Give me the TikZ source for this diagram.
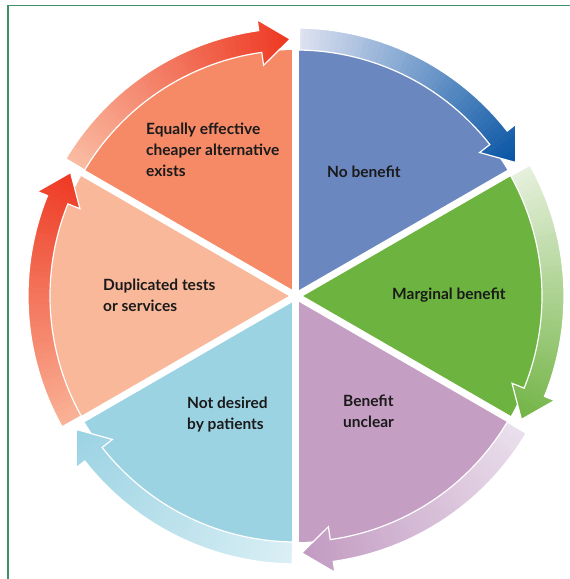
\documentclass[tikz,border=0pt]{standalone}
\usepackage{fontspec}
\setmainfont{Lato}

% sector fills
\definecolor{secblue}{HTML}{6B87BF}
\definecolor{secgreen}{HTML}{6CB33F}
\definecolor{secpurple}{HTML}{C59EC3}
\definecolor{seccyan}{HTML}{9CD3E3}
\definecolor{secpeach}{HTML}{F9B89A}
\definecolor{secsalmon}{HTML}{F68A66}
% arrow gradients (tail -> head)
\definecolor{bluetail}{HTML}{DDE2F1}
\definecolor{bluehead}{HTML}{0A56A5}
\definecolor{greentail}{HTML}{E6F0DC}
\definecolor{greenhead}{HTML}{74B548}
\definecolor{purpletail}{HTML}{EADFEC}
\definecolor{purplehead}{HTML}{C39BC2}
\definecolor{cyantail}{HTML}{DAEFF5}
\definecolor{cyanhead}{HTML}{9CD3E3}
\definecolor{peachtail}{HTML}{F9B296}
\definecolor{redhead}{HTML}{EE3A24}
\definecolor{salmontail}{HTML}{F9BCA2}
\definecolor{ink}{HTML}{1A1A1A}
\definecolor{framegreen}{HTML}{3F8F68}

% one wedge of the wheel, from angle #1 clockwise to #2
\newcommand\wheelwedge[3]{%
  \fill[#3] (0,0) -- (#1:246) arc[start angle=#1, end angle=#2, radius=246] -- cycle;}

% outline of the curved arrow along the rim of the wedge starting at angle #1
\newcommand\rimpath{(\ta:268) arc[start angle=\ta, end angle=\wa, radius=268]
  -- (\wa:279) -- (\pa:257) -- (\wa:233) -- (\wa:246)
  arc[start angle=\wa, end angle=\ta, radius=246] -- cycle}

% curved arrow with a colour ramp from tail (#2) to head (#3)
\newcommand\cyclearrow[3]{%
  \pgfmathsetmacro\ta{#1-0.8}%
  \pgfmathsetmacro\wa{#1-60+8}%
  \pgfmathsetmacro\pa{#1-60+1.3}%
  \begin{scope}
    \clip \rimpath;
    \foreach \i in {0,...,47} {
      \pgfmathsetmacro\aa{\ta-\i*(\ta-\pa)/48+0.3}
      \pgfmathsetmacro\ab{\ta-(\i+1)*(\ta-\pa)/48-0.3}
      \pgfmathtruncatemacro\p{round(100*\i/47)}
      \fill[#3!\p!#2] (0,0) -- (\aa:300) -- (\ab:300) -- cycle;
    }
  \end{scope}
  \draw[white, line width=1.2pt, line join=miter] \rimpath;
}

\begin{document}
\begin{tikzpicture}[x=1pt, y=1pt,
  wheeltext/.style={anchor=west, align=left, inner sep=0pt, text=ink,
    font=\bfseries\fontsize{15.5}{21}\selectfont},
  gapline/.style={white, line width=7pt},
  frameline/.style={draw=framegreen, line width=1.1pt}]

\useasboundingbox (-296,-283) rectangle (274,296);

% frame
\draw[frameline] (-288,-283) -- (-288,290.5) -- (274,290.5);

% wedges
\wheelwedge{90}{30}{secblue}
\wheelwedge{30}{-30}{secgreen}
\wheelwedge{-30}{-90}{secpurple}
\wheelwedge{-90}{-150}{seccyan}
\wheelwedge{210}{150}{secpeach}
\wheelwedge{150}{90}{secsalmon}

% rim arrows, clockwise
\cyclearrow{90}{bluetail}{bluehead}
\cyclearrow{30}{greentail}{greenhead}
\cyclearrow{-30}{purpletail}{purplehead}
\cyclearrow{-90}{cyantail}{cyanhead}
\cyclearrow{210}{peachtail}{redhead}
\cyclearrow{150}{salmontail}{redhead}

% white gaps between the wedges
\foreach \g in {90,30,-30,-90,-150,150}
  \draw[gapline] (0,0) -- (\g:280);

% labels
\node[wheeltext] (equal) at (-150,146) {Equally effective\\cheaper alternative\\exists};
\node[wheeltext] (nobenefit) at (31,124) {No benefit};
\node[wheeltext] (marginal) at (96,1) {Marginal benefit};
\node[wheeltext] (unclear) at (47,-115.5) {Benefit\\unclear};
\node[wheeltext] (notdesired) at (-109,-118.5) {Not desired\\by patients};
\node[wheeltext] (duplicated) at (-193,0.5) {Duplicated tests\\or services};

\end{tikzpicture}
\end{document}
